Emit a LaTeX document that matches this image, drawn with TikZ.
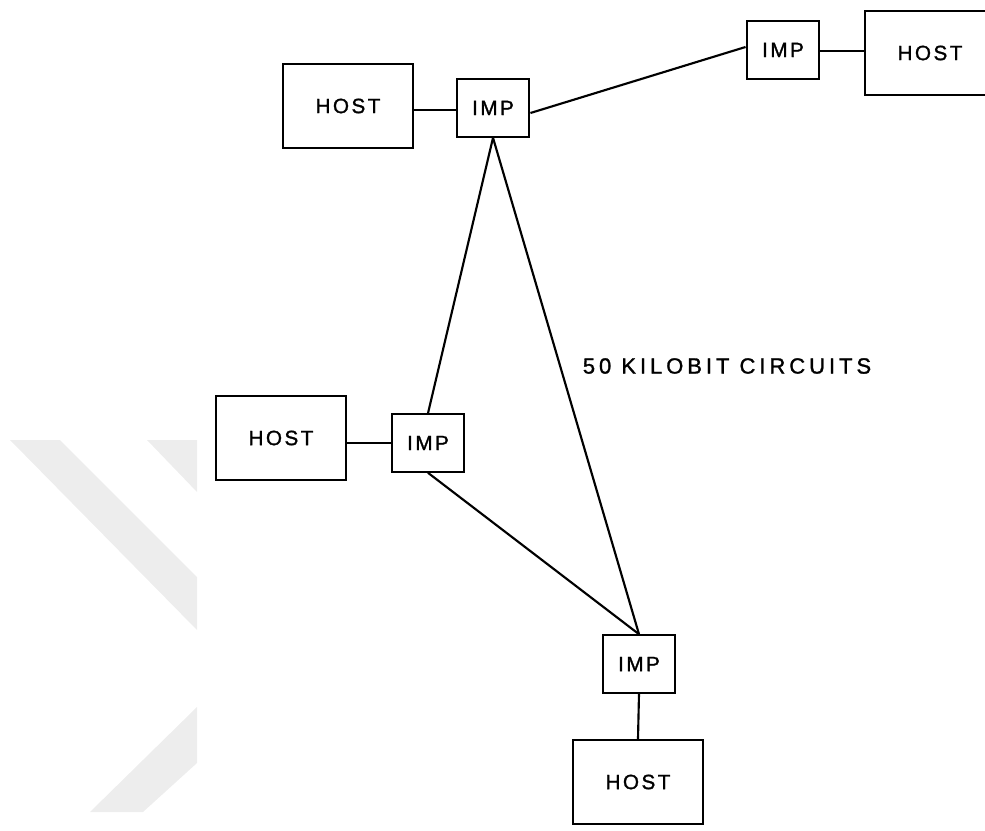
\documentclass[tikz,border=0pt]{standalone}
\usepackage{fontspec}
\setmainfont{Liberation Sans}[LetterSpace=12,RawFeature={embolden=1.3}]
\newfontfamily\lblfont{Liberation Sans}[LetterSpace=18,RawFeature={embolden=1.3}]
\begin{document}
\begin{tikzpicture}[x=0.75pt,y=-0.75pt,
  box/.style={draw=black,line width=1.7pt,fill=white,inner sep=0pt,font=\fontsize{15.5}{18}\selectfont},
  hostbox/.style={box,minimum width=97.5pt,minimum height=63pt},
  impbox/.style={box,minimum width=54.5pt,minimum height=43pt},
  link/.style={draw=black,line width=1.6pt},
  wm/.style={fill=black!7,draw=none}]
\useasboundingbox (0,0) rectangle (985,831);
% faint watermark
\fill[wm] (10,440) -- (60,440) -- (197,577) -- (197,630) -- cycle;
\fill[wm] (147,440) -- (197,440) -- (197,492) -- cycle;
\fill[wm] (90,812) -- (143,812) -- (197,763) -- (197,707) -- cycle;
% nodes
\node[hostbox] (host1) at (348,106) {HOST};
\node[impbox] (imp1) at (493,108) {IMP};
\node[impbox] (imp2) at (783,50) {IMP};
\node[hostbox] (host2) at (930,53) {HOST};
\node[hostbox] (host3) at (281,438) {HOST};
\node[impbox] (imp3) at (428,443) {IMP};
\node[impbox] (imp4) at (639,664) {IMP};
\node[hostbox] (host4) at (638,782) {HOST};
\node[font=\lblfont\fontsize{16.5}{18}\selectfont,inner sep=0pt] (lbl) at (727,366) {50 KILOBIT CIRCUITS};
% links
\draw[link] (host1.east |- 0,110) -- (imp1.west |- 0,110);
\draw[link] (imp1.east |- 0,113) -- (imp2.west |- 0,47);
\draw[link] (imp2.east |- 0,51) -- (host2.west |- 0,51);
\draw[link] (host3.east |- 0,443) -- (imp3.west |- 0,443);
\draw[link] (imp1.south) -- (imp3.north);
\draw[link] (imp1.south) -- (imp4.north);
\draw[link] (imp3.south) -- (imp4.north);
\draw[link] (imp4.south) -- (host4.north);
\end{tikzpicture}
\end{document}
